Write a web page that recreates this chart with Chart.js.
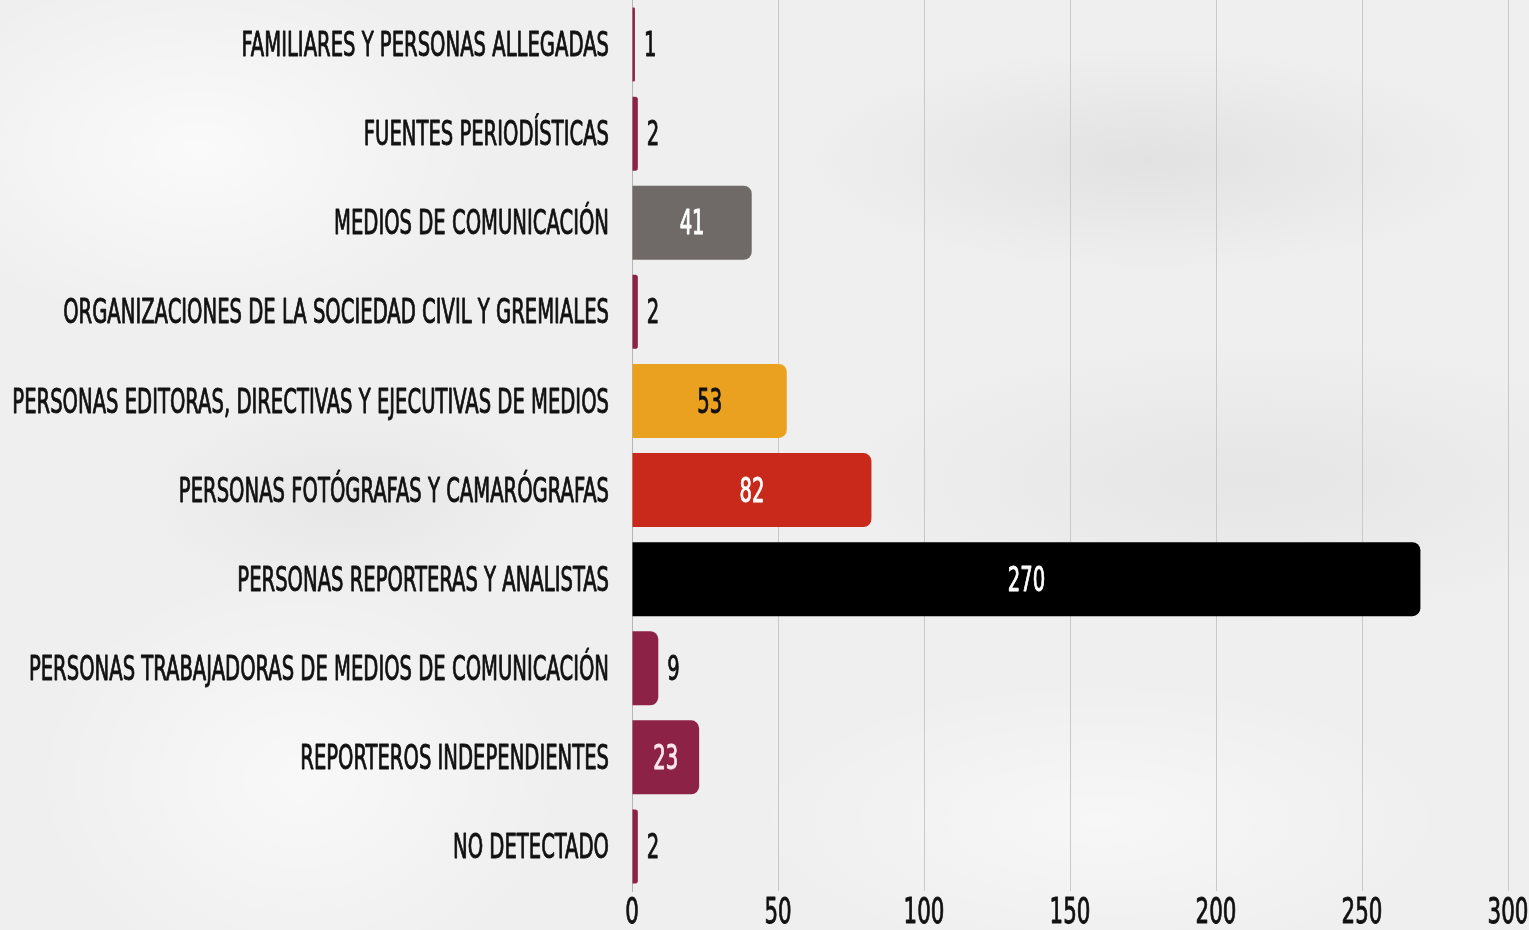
<!DOCTYPE html>
<html>
<head>
<meta charset="utf-8">
<script src="https://cdn.jsdelivr.net/npm/chart.js@4/dist/chart.umd.min.js"></script>
<style>
html,body{margin:0;padding:0;}
body{
  width:1529px;height:930px;overflow:hidden;
  background:
    radial-gradient(ellipse 420px 260px at 200px 150px, rgba(255,255,255,0.7), rgba(255,255,255,0) 70%),
    radial-gradient(ellipse 380px 300px at 300px 780px, rgba(255,255,255,0.6), rgba(255,255,255,0) 70%),
    radial-gradient(ellipse 500px 160px at 1150px 160px, rgba(210,210,210,0.45), rgba(210,210,210,0) 70%),
    radial-gradient(ellipse 600px 200px at 1250px 480px, rgba(215,215,215,0.4), rgba(215,215,215,0) 70%),
    radial-gradient(ellipse 300px 140px at 350px 500px, rgba(215,215,215,0.35), rgba(215,215,215,0) 70%),
    radial-gradient(ellipse 500px 200px at 1100px 820px, rgba(255,255,255,0.5), rgba(255,255,255,0) 70%),
    #efefef;
}
#wrap{position:absolute;left:0;top:0;width:1529px;height:930px;}
</style>
</head>
<body>
<div id="wrap"><canvas id="c" width="1529" height="930"></canvas></div>
<script>
const categories = [
  "FAMILIARES Y PERSONAS ALLEGADAS",
  "FUENTES PERIODÍSTICAS",
  "MEDIOS DE COMUNICACIÓN",
  "ORGANIZACIONES DE LA SOCIEDAD CIVIL Y GREMIALES",
  "PERSONAS EDITORAS, DIRECTIVAS Y EJECUTIVAS DE MEDIOS",
  "PERSONAS FOTÓGRAFAS Y CAMARÓGRAFAS",
  "PERSONAS REPORTERAS Y ANALISTAS",
  "PERSONAS TRABAJADORAS DE MEDIOS DE COMUNICACIÓN",
  "REPORTEROS INDEPENDIENTES",
  "NO DETECTADO"
];
const values = [1, 2, 41, 2, 53, 82, 270, 9, 23, 2];
const xTicks = [0, 50, 100, 150, 200, 250, 300];

const barColors = ["#8c2347","#8c2347","#6f6a68","#8c2347","#eaa11f","#c8291a","#000000","#8c2347","#8c2347","#8c2347"];
const insideLabelColors = ["#fff","#fff","#ffffff","#fff","#111111","#ffffff","#ffffff","#fff","#fde8f0","#fff"];

const FONT = "'DejaVu Sans Condensed','Liberation Sans Narrow',sans-serif";
const SX = 0.66; // horizontal condensing of glyphs

const canvas = document.getElementById('c');
const ctx = canvas.getContext('2d');
const origFill = ctx.fillText.bind(ctx);
const origStroke = ctx.strokeText.bind(ctx);
const origMeasure = ctx.measureText.bind(ctx);
ctx.fillText = function(t, x, y){
  ctx.save();
  ctx.translate(x, y);
  ctx.scale(SX, 1);
  origFill(t, 0, 0);
  ctx.strokeStyle = ctx.fillStyle;
  ctx.lineWidth = 0.9;
  ctx.lineJoin = 'round';
  origStroke(t, 0, 0);
  ctx.restore();
};
ctx.measureText = function(t){
  const m = origMeasure(t);
  return {
    width: m.width * SX,
    actualBoundingBoxAscent: m.actualBoundingBoxAscent,
    actualBoundingBoxDescent: m.actualBoundingBoxDescent,
    actualBoundingBoxLeft: m.actualBoundingBoxLeft * SX,
    actualBoundingBoxRight: m.actualBoundingBoxRight * SX,
    fontBoundingBoxAscent: m.fontBoundingBoxAscent,
    fontBoundingBoxDescent: m.fontBoundingBoxDescent
  };
};

const valueLabels = {
  id: 'valueLabels',
  afterDatasetsDraw(chart){
    const c = chart.ctx;
    const meta = chart.getDatasetMeta(0);
    c.save();
    c.font = "33px " + FONT;
    c.textBaseline = 'middle';
    meta.data.forEach((bar, i) => {
      const v = values[i];
      const txt = String(v);
      if (v >= 20) {
        c.fillStyle = insideLabelColors[i];
        c.textAlign = 'center';
        c.fillText(txt, (bar.x + bar.base) / 2, bar.y + 3);
      } else {
        c.fillStyle = '#111111';
        c.textAlign = 'left';
        c.fillText(txt, bar.x + 9, bar.y + 3);
      }
    });
    c.restore();
  }
};

new Chart(ctx, {
  type: 'bar',
  data: {
    labels: categories,
    datasets: [{
      data: values,
      backgroundColor: barColors,
      borderRadius: 8,
      borderSkipped: 'start',
      barPercentage: 0.83,
      categoryPercentage: 1.0
    }]
  },
  options: {
    indexAxis: 'y',
    responsive: false,
    animation: false,
    layout: { padding: { top: 0, right: 0, bottom: 0, left: 0 } },
    plugins: { legend: { display: false }, tooltip: { enabled: false } },
    scales: {
      x: {
        min: 0, max: 300,
        afterBuildTicks(scale){ scale.ticks = xTicks.map(v => ({ value: v })); },
        afterFit(scale){ scale.height = 39; scale.paddingLeft = 0; scale.paddingRight = 21; },
        grid: { color: '#c9c9c9', lineWidth: 1, drawTicks: false },
        border: { display: false },
        ticks: { color: '#111111', font: { family: FONT, size: 36 }, padding: 1, maxRotation: 0 }
      },
      y: {
        afterFit(scale){ scale.width = 632; scale.paddingTop = 0; scale.paddingBottom = 0; },
        grid: { display: false, drawTicks: false },
        border: { display: true, color: '#b5b5b5', width: 1 },
        ticks: { color: '#111111', font: { family: FONT, size: 33 }, padding: 23, autoSkip: false, labelOffset: 3 }
      }
    }
  },
  plugins: [valueLabels]
});
</script>
</body>
</html>
